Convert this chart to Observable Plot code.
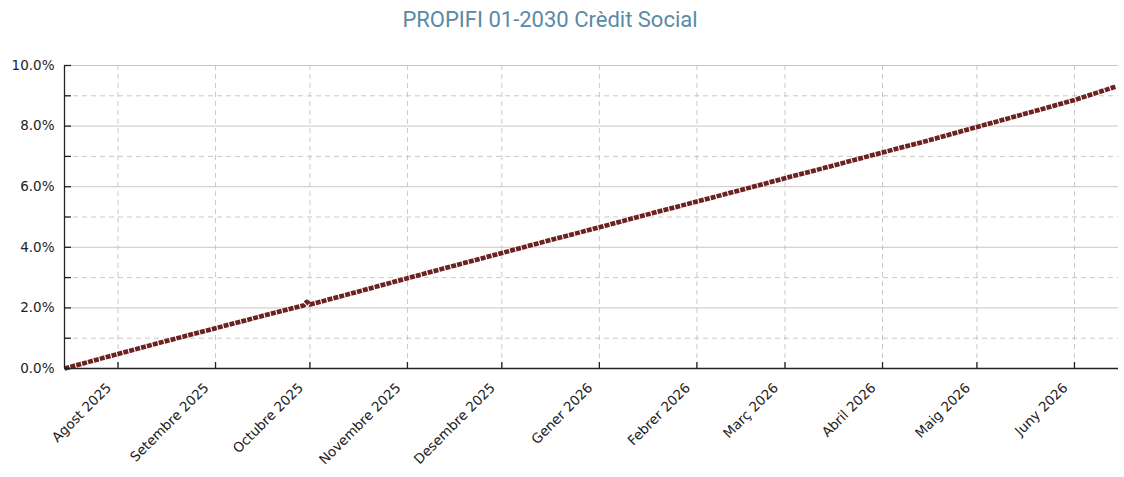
<!DOCTYPE html>
<html>
<head>
<meta charset="utf-8">
<script src="https://cdn.jsdelivr.net/npm/d3@7"></script>
<script src="https://cdn.jsdelivr.net/npm/@observablehq/plot@0.6"></script>
<style>
  html, body { margin: 0; padding: 0; background: #fff; }
  #title { width: 1100px; height: 40px; line-height: 40px; text-align: center;
    font-family: Roboto, "Noto Sans", sans-serif; font-size: 22px; color: #5b8aa6; }
  #chart svg { display: block; }
</style>
</head>
<body>
<div id="title">PROPIFI 01-2030 Crèdit Social</div>
<div id="chart"></div>
<script>
// Data
const dates = ["2025-07-15","2025-08-01","2025-08-15","2025-09-01","2025-09-15","2025-09-29","2025-09-30","2025-10-01","2025-10-15","2025-11-01","2025-11-15","2025-12-01","2025-12-15","2026-01-01","2026-01-15","2026-02-01","2026-02-15","2026-03-01","2026-03-15","2026-04-01","2026-04-15","2026-05-01","2026-05-15","2026-06-01","2026-06-14"];
const values = [0.00, 0.48, 0.87, 1.33, 1.71, 2.08, 2.20, 2.11, 2.50, 2.98, 3.37, 3.81, 4.20, 4.66, 5.05, 5.51, 5.89, 6.28, 6.66, 7.13, 7.51, 7.97, 8.37, 8.86, 9.30];
const monthTicks = ["2025-08-01","2025-09-01","2025-10-01","2025-11-01","2025-12-01","2026-01-01","2026-02-01","2026-03-01","2026-04-01","2026-05-01","2026-06-01"];
const monthLabels = ["Agost 2025","Setembre 2025","Octubre 2025","Novembre 2025","Desembre 2025","Gener 2026","Febrer 2026","Març 2026","Abril 2026","Maig 2026","Juny 2026"];
const yMajor = [0, 2, 4, 6, 8, 10];
const yMinor = [1, 3, 5, 7, 9];
const xDomain = ["2025-07-15", "2026-06-15"];

const parse = d3.utcParse("%Y-%m-%d");
const data = dates.map((d, i) => ({date: parse(d), value: values[i]}));
const mTicks = monthTicks.map(parse);
const labelOf = new Map(mTicks.map((d, i) => [+d, monthLabels[i]]));

const chart = Plot.plot({
  width: 1124,
  height: 437,
  marginTop: 25,
  marginBottom: 109,
  marginLeft: 64,
  marginRight: 6,
  style: {fontFamily: "'DejaVu Sans', sans-serif", fontSize: "13.5px", color: "#222"},
  x: {type: "utc", domain: xDomain.map(parse), label: null},
  y: {domain: [0, 10], label: null},
  marks: [
    Plot.gridY(yMinor, {stroke: "#bbb", strokeOpacity: 0.8, strokeDasharray: "5,4"}),
    Plot.gridY(yMajor, {stroke: "#c8c8c8", strokeOpacity: 1}),
    Plot.gridX(mTicks, {stroke: "#bbb", strokeOpacity: 0.8, strokeDasharray: "5,4"}),
    Plot.line(data, {x: "date", y: "value", stroke: "#6d2222", strokeWidth: 4.6, strokeDasharray: "5,1.1", strokeLinecap: "butt"}),
    Plot.ruleX([0], {x: () => parse(xDomain[0]), stroke: "#222", strokeWidth: 1.3}),
    Plot.ruleY([0], {stroke: "#222", strokeWidth: 1.3}),
    Plot.axisY(yMajor, {tickSize: 0, tickPadding: 10, tickFormat: d => d.toFixed(1) + "%", fill: "#222", fontSize: 13.5, label: null}),
    Plot.axisY(yMajor.concat(yMinor), {tickSize: -7, tickFormat: () => "", stroke: "#222", strokeWidth: 1.3, label: null}),
    Plot.axisX(mTicks, {tickSize: 0, tickPadding: 12, dx: -9, dy: 5, tickRotate: -45, tickFormat: d => labelOf.get(+d), fill: "#222", fontSize: 13.5, label: null}),
    Plot.axisX(mTicks, {tickSize: -6, tickFormat: () => "", stroke: "#222", strokeWidth: 1.3, label: null})
  ]
});
document.getElementById("chart").appendChild(chart);
</script>
</body>
</html>
